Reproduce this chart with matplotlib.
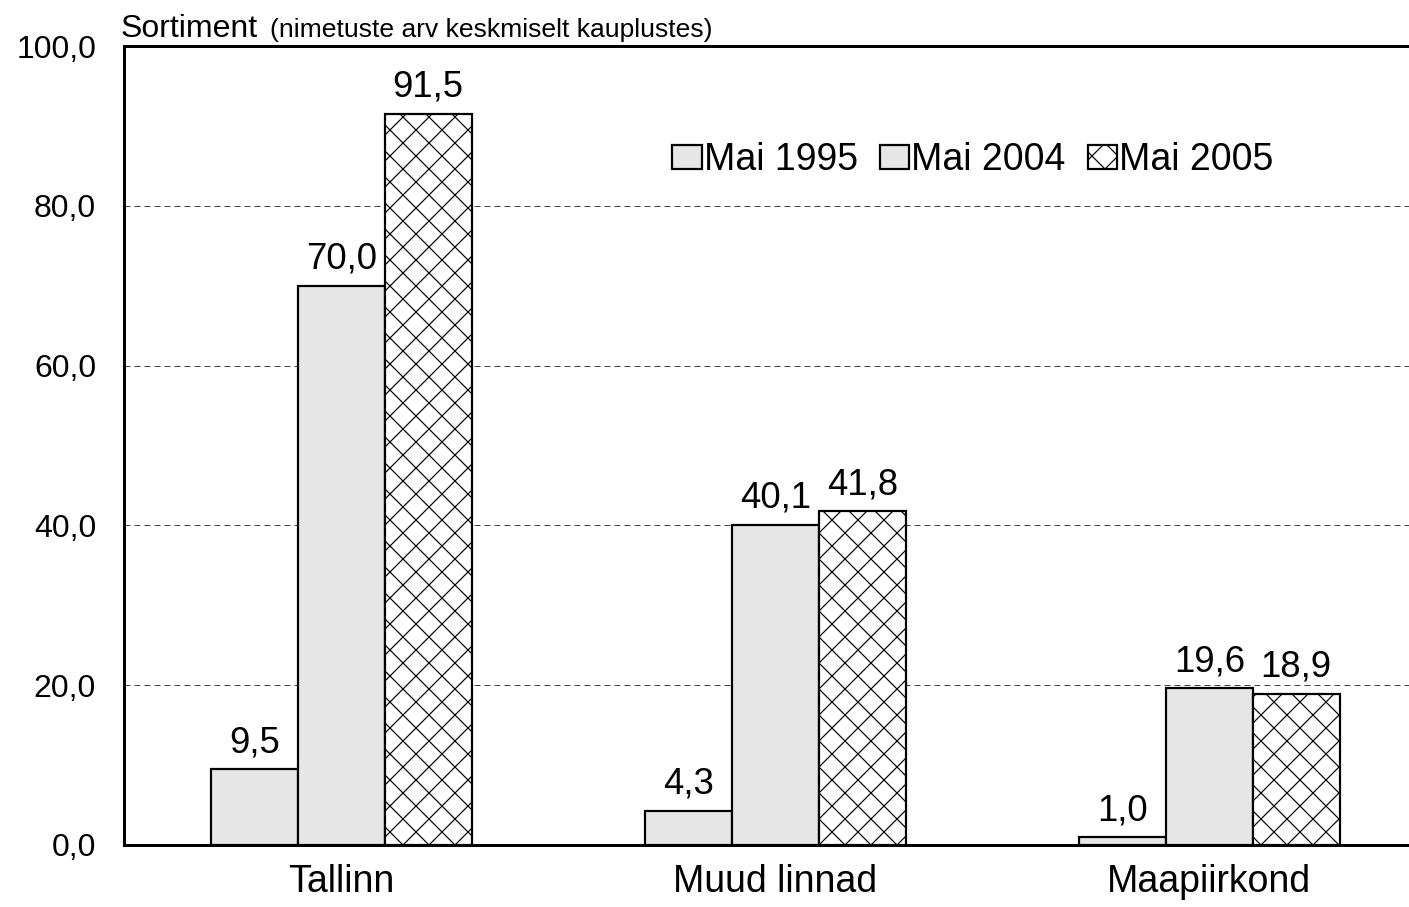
import matplotlib
matplotlib.use("Agg")
import matplotlib.pyplot as plt
import numpy as np

categories = ["Tallinn", "Muud linnad", "Maapiirkond"]
series_names = ["Mai 1995", "Mai 2004", "Mai 2005"]
v1995 = [9.5, 4.3, 1.0]
v2004 = [70.0, 40.1, 19.6]
v2005 = [91.5, 41.8, 18.9]
yticks = [0, 20, 40, 60, 80, 100]

DPI = 78
W, H = 1409, 907
def pt(px):
    return px * 72.0 / DPI

plt.rcParams['font.family'] = ['Liberation Sans', 'DejaVu Sans']
plt.rcParams['hatch.linewidth'] = pt(1.2)

fig = plt.figure(figsize=(W / DPI, H / DPI), dpi=DPI)
ax = fig.add_axes([124 / W, (907 - 845) / H, (1409 - 124) / W, (845 - 46) / H])

x = np.arange(len(categories))
bw = 0.2
styles = [dict(facecolor="#e6e6e6", hatch=None),
          dict(facecolor="#e6e6e6", hatch=None),
          dict(facecolor="white", hatch="x")]
for i, (vals, name) in enumerate(zip([v1995, v2004, v2005], series_names)):
    bars = ax.bar(x + (i - 1) * bw, vals, bw, label=name, edgecolor="black",
                  linewidth=pt(2.2), zorder=3, **styles[i])
    for b, v in zip(bars, vals):
        ax.annotate(f"{v:.1f}".replace(".", ","),
                    (b.get_x() + b.get_width() / 2, v),
                    xytext=(0, pt(9)), textcoords="offset points",
                    ha="center", va="bottom", fontsize=pt(36.5), zorder=4)

ax.set_xlim(-0.501, 2.46)
ax.set_ylim(0, 100)
ax.set_yticks(yticks)
ax.set_yticklabels([f"{t:.1f}".replace(".", ",") for t in yticks], fontsize=pt(32))
ax.set_xticks(x)
ax.set_xticklabels(categories, fontsize=pt(37.5))
ax.tick_params(axis="both", length=0)
ax.tick_params(axis="y", pad=pt(28))
ax.tick_params(axis="x", pad=pt(19))

for t in yticks[1:-1]:
    ax.axhline(t, color="#444444", linestyle=(0, (6, 4)),
               linewidth=pt(1), zorder=1)

for s in ["left", "bottom", "top"]:
    ax.spines[s].set_linewidth(pt(3))
ax.spines["right"].set_visible(False)

leg = ax.legend(loc="center", bbox_to_anchor=((973 - 124) / (1409 - 124), (845 - 160) / (845 - 46)),
                ncol=3, frameon=False, fontsize=pt(37.5), handlelength=0.78, handleheight=0.6,
                handletextpad=0.05, columnspacing=0.6, borderpad=0)

fig.text(121 / W, 1 - 37 / H, "Sortiment", fontsize=pt(32), ha="left", va="baseline")
fig.text(270 / W, 1 - 37 / H, "(nimetuste arv keskmiselt kauplustes)", fontsize=pt(26.5),
         ha="left", va="baseline")

fig.savefig("out.png", dpi=DPI)
